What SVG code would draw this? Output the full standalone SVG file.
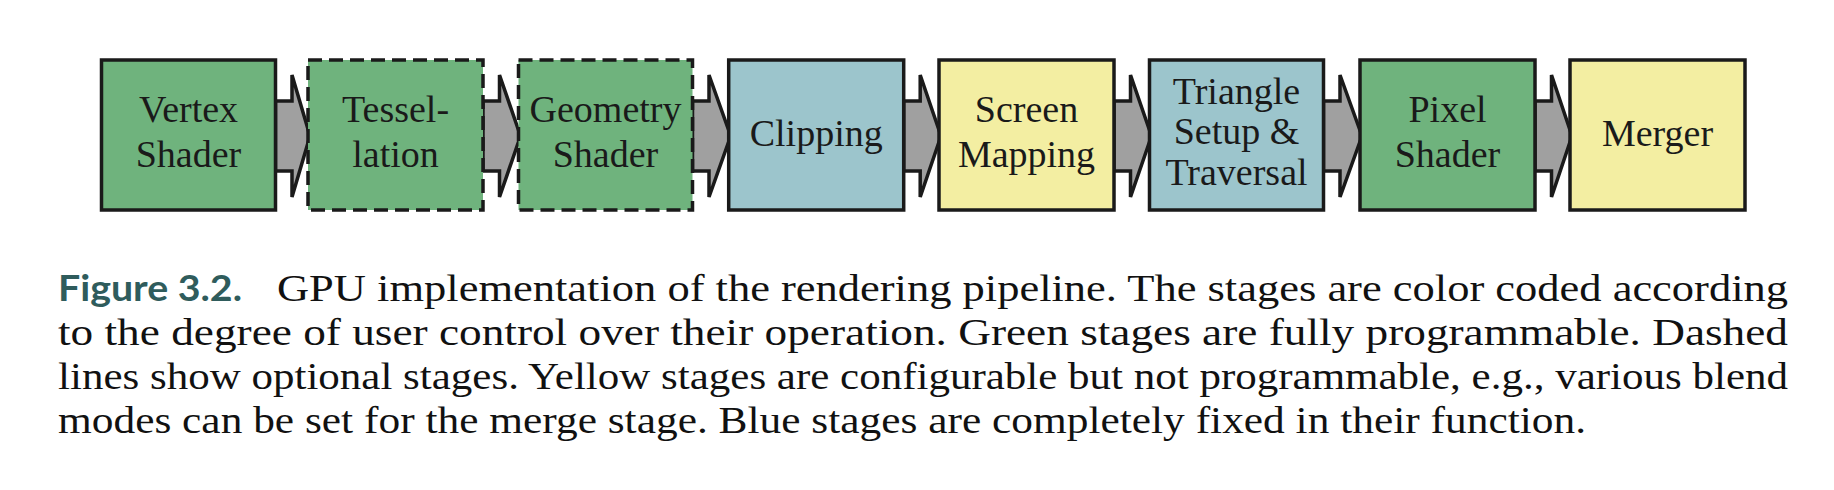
<svg xmlns="http://www.w3.org/2000/svg" width="1834" height="490" viewBox="0 0 1834 490">
  <style>
    .box { stroke: #1a1a1a; stroke-width: 3.5; }
    .green { fill: #6fb37d; }
    .blue { fill: #9cc5cc; }
    .yellow { fill: #f3eea2; }
    .dashed { stroke-dasharray: 14 7; }
    .arrow { fill: #a0a0a0; stroke: #1a1a1a; stroke-width: 3.5; stroke-linejoin: miter; }
    .label { font-family: "Liberation Serif", "Times New Roman", serif; font-size: 38px; fill: #1a1a1a; text-anchor: middle; }
    .cap { font-family: "Liberation Serif", "Times New Roman", serif; font-size: 38px; fill: #111111; }
    .fig { font-family: Lato, "Open Sans", "Liberation Sans", sans-serif; font-weight: bold; font-size: 37px; fill: #2f5c5c; }
  </style>
  <rect width="1834" height="490" fill="#ffffff"/>
  <g id="connectors">
    <path class="arrow" d="M275.5,101 H292 V75 L310,136 L292,197 V171 H275.5 Z"/>
    <path class="arrow" d="M483,101 H499.5 V75 L520.5,136 L499.5,197 V171 H483 Z"/>
    <path class="arrow" d="M692.5,101 H709 V75 L730.7,136 L709,197 V171 H692.5 Z"/>
    <path class="arrow" d="M903.7,101 H920.2 V75 L941,136 L920.2,197 V171 H903.7 Z"/>
    <path class="arrow" d="M1114,101 H1130.5 V75 L1151.5,136 L1130.5,197 V171 H1114 Z"/>
    <path class="arrow" d="M1323.5,101 H1340 V75 L1362,136 L1340,197 V171 H1323.5 Z"/>
    <path class="arrow" d="M1535,101 H1551.5 V75 L1572,136 L1551.5,197 V171 H1535 Z"/>
  </g>
  <g id="node-vertex-shader">
    <rect class="box green" x="101.5" y="60" width="174" height="150"/>
    <text class="label" x="188.5" y="122">Vertex</text>
    <text class="label" x="188.5" y="166.5">Shader</text>
  </g>
  <g id="node-tesselation">
    <rect class="box green dashed" x="308" y="60" width="175" height="150"/>
    <text class="label" x="395.5" y="122">Tessel-</text>
    <text class="label" x="395.5" y="166.5">lation</text>
  </g>
  <g id="node-geometry-shader">
    <rect class="box green dashed" x="518.5" y="60" width="174" height="150"/>
    <text class="label" x="605.5" y="122">Geometry</text>
    <text class="label" x="605.5" y="166.5">Shader</text>
  </g>
  <g id="node-clipping">
    <rect class="box blue" x="728.7" y="60" width="175" height="150"/>
    <text class="label" x="816.2" y="146">Clipping</text>
  </g>
  <g id="node-screen-mapping">
    <rect class="box yellow" x="939" y="60" width="175" height="150"/>
    <text class="label" x="1026.5" y="122">Screen</text>
    <text class="label" x="1026.5" y="166.5">Mapping</text>
  </g>
  <g id="node-triangle-setup">
    <rect class="box blue" x="1149.5" y="60" width="174" height="150"/>
    <text class="label" x="1236.5" y="103.5">Triangle</text>
    <text class="label" x="1236.5" y="144.3">Setup &amp;</text>
    <text class="label" x="1236.5" y="184.5">Traversal</text>
  </g>
  <g id="node-pixel-shader">
    <rect class="box green" x="1360" y="60" width="175" height="150"/>
    <text class="label" x="1447.5" y="122">Pixel</text>
    <text class="label" x="1447.5" y="166.5">Shader</text>
  </g>
  <g id="node-merger">
    <rect class="box yellow" x="1570" y="60" width="175" height="150"/>
    <text class="label" x="1657.5" y="146">Merger</text>
  </g>
  <g id="caption">
    <text class="fig" x="58" y="301" textLength="184" lengthAdjust="spacingAndGlyphs">Figure 3.2.</text>
    <text class="cap" x="277" y="301" textLength="1511" lengthAdjust="spacingAndGlyphs">GPU implementation of the rendering pipeline. The stages are color coded according</text>
    <text class="cap" x="58" y="345" textLength="1730" lengthAdjust="spacingAndGlyphs">to the degree of user control over their operation. Green stages are fully programmable. Dashed</text>
    <text class="cap" x="58" y="389" textLength="1730" lengthAdjust="spacingAndGlyphs">lines show optional stages. Yellow stages are configurable but not programmable, e.g., various blend</text>
    <text class="cap" x="58" y="433" textLength="1528" lengthAdjust="spacingAndGlyphs">modes can be set for the merge stage. Blue stages are completely fixed in their function.</text>
  </g>
</svg>
